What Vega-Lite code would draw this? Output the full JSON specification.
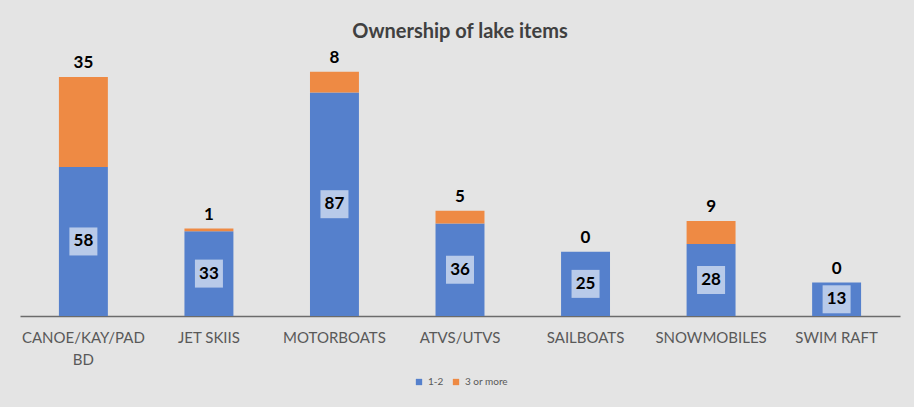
{
  "$schema": "https://vega.github.io/schema/vega-lite/v6.json",
  "width": 880,
  "height": 257,
  "autosize": {"type": "none"},
  "padding": {"left": 20, "top": 59, "right": 14, "bottom": 91},
  "background": "#e4e4e4",
  "config": {
    "view": {"stroke": null},
    "font": "Lato"
  },
  "title": {
    "text": "Ownership of lake items",
    "font": "Lato",
    "fontSize": 20,
    "fontWeight": "bold",
    "color": "#404040",
    "anchor": "middle",
    "frame": "group",
    "offset": 7
  },
  "data": {
    "values": [
      {"item": "CANOE/KAY/PAD BD", "series": "1-2", "value": 58},
      {"item": "CANOE/KAY/PAD BD", "series": "3 or more", "value": 35},
      {"item": "JET SKIIS", "series": "1-2", "value": 33},
      {"item": "JET SKIIS", "series": "3 or more", "value": 1},
      {"item": "MOTORBOATS", "series": "1-2", "value": 87},
      {"item": "MOTORBOATS", "series": "3 or more", "value": 8},
      {"item": "ATVS/UTVS", "series": "1-2", "value": 36},
      {"item": "ATVS/UTVS", "series": "3 or more", "value": 5},
      {"item": "SAILBOATS", "series": "1-2", "value": 25},
      {"item": "SAILBOATS", "series": "3 or more", "value": 0},
      {"item": "SNOWMOBILES", "series": "1-2", "value": 28},
      {"item": "SNOWMOBILES", "series": "3 or more", "value": 9},
      {"item": "SWIM RAFT", "series": "1-2", "value": 13},
      {"item": "SWIM RAFT", "series": "3 or more", "value": 0}
    ]
  },
  "encoding": {
    "x": {
      "field": "item",
      "type": "nominal",
      "sort": null,
      "scale": {"paddingInner": 0.61, "paddingOuter": 0.31},
      "axis": {
        "title": null,
        "ticks": false,
        "labelAngle": 0,
        "labelFont": "Lato",
        "labelFontSize": 15,
        "labelColor": "#595959",
        "labelPadding": 14,
        "labelLineHeight": 22,
        "labelExpr": "datum.label == 'CANOE/KAY/PAD BD' ? ['CANOE/KAY/PAD', 'BD'] : datum.label",
        "domainColor": "#6b6b6b",
        "domainWidth": 1.5,
        "grid": false
      }
    }
  },
  "layer": [
    {
      "mark": {"type": "bar"},
      "encoding": {
        "y": {
          "field": "value",
          "type": "quantitative",
          "stack": "zero",
          "scale": {"domain": [0, 100], "nice": false},
          "axis": null
        },
        "color": {
          "field": "series",
          "type": "nominal",
          "scale": {"domain": ["1-2", "3 or more"], "range": ["#5580cc", "#ee8a44"]},
          "legend": {
            "title": null,
            "orient": "none",
            "legendX": 394,
            "legendY": 318,
            "direction": "horizontal",
            "symbolType": "square",
            "symbolSize": 40,
            "labelFont": "Lato",
            "labelFontSize": 10,
            "labelColor": "#595959",
            "columnPadding": 7
          }
        },
        "order": {"field": "series", "sort": "ascending"}
      }
    },
    {
      "mark": {"type": "text", "baseline": "bottom", "dy": -5, "fontSize": 17, "fontWeight": "bold", "font": "Lato", "color": "#000000"},
      "encoding": {
        "y": {
          "field": "value",
          "type": "quantitative",
          "stack": "zero",
          "scale": {"domain": [0, 100], "nice": false},
          "axis": null
        },
        "detail": {"field": "series"},
        "order": {"field": "series", "sort": "ascending"},
        "text": {
          "condition": {"test": "datum.series == '3 or more'", "field": "value", "type": "quantitative"},
          "value": ""
        }
      }
    },
    {
      "transform": [{"filter": "datum.series == '1-2'"}],
      "layer": [
        {
          "mark": {"type": "point", "shape": "square", "filled": true, "size": 784, "color": "#b8cae9", "opacity": 1},
          "encoding": {
            "y": {
              "field": "value",
              "type": "quantitative",
              "stack": null,
              "scale": {"domain": [0, 200], "nice": false},
              "axis": null
            }
          }
        },
        {
          "mark": {"type": "text", "baseline": "middle", "fontSize": 17, "fontWeight": "bold", "font": "Lato", "color": "#000000"},
          "encoding": {
            "y": {
              "field": "value",
              "type": "quantitative",
              "stack": null,
              "scale": {"domain": [0, 200], "nice": false},
              "axis": null
            },
            "text": {"field": "value", "type": "quantitative"}
          }
        }
      ]
    }
  ],
  "resolve": {"scale": {"y": "independent"}}
}
